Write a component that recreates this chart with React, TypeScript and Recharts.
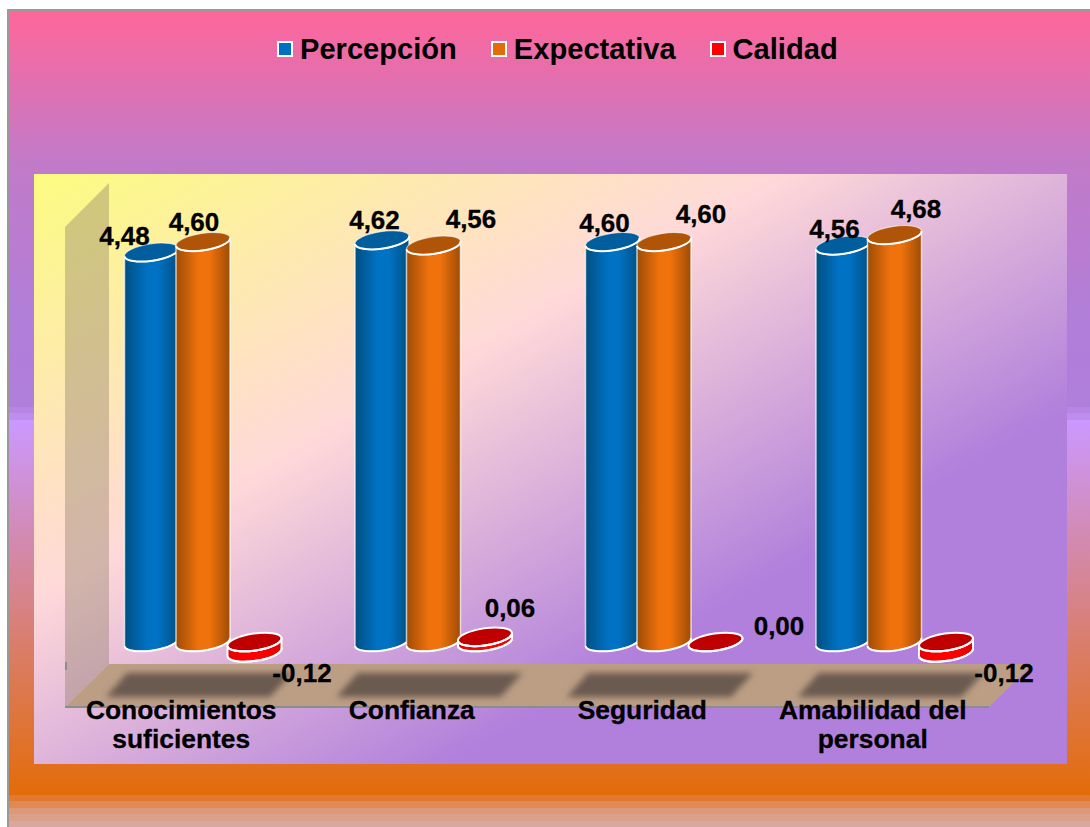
import React from "react";
import { BarChart, Bar, XAxis, YAxis, Legend, LabelList } from "recharts";

const categories = ["Conocimientos suficientes", "Confianza", "Seguridad", "Amabilidad del personal"];
const percepcion = [4.48, 4.62, 4.6, 4.56];
const expectativa = [4.6, 4.56, 4.6, 4.68];
const calidad = [-0.12, 0.06, 0, -0.12];

const data = categories.map((name, i) => ({
  name,
  Percepción: percepcion[i],
  Expectativa: expectativa[i],
  Calidad: calidad[i],
}));

// Label layout nudges, relative to each bar's centre and top
const NUDGE_P = [[-27, -17], [-7.5, -20], [-8, -19], [-8.5, -17]];
const NUDGE_E = [[-9, -20], [37.5, -27], [37, -28], [21.5, -26]];
const NUDGE_C = [[47.5, 31], [25, -29], [63.5, -16], [58, 31]];

const FONT = "'Liberation Sans', Arial, sans-serif";
const TILT = 8.5;
const RAD = (TILT * Math.PI) / 180;
const RY = 8.5;
const GROUP_STEP = 230.5;

function cylinder(grad: string, topFill: string, fullRim: boolean) {
  return (props: any) => {
    const { x, y, width, height } = props;
    const top = Math.min(y, y + height);
    const bot = Math.max(y, y + height);
    const cx = x + width / 2;
    const rx = width / 2 / Math.cos(RAD);
    const off = (width / 2) * Math.tan(RAD);
    const lx = x;
    const rxx = x + width;
    const side =
      `M ${lx} ${top + off} L ${lx} ${bot + off} ` +
      `A ${rx} ${RY} ${-TILT} 0 0 ${rxx} ${bot - off} ` +
      `L ${rxx} ${top - off} A ${rx} ${RY} ${-TILT} 0 1 ${lx} ${top + off} Z`;
    const front = `M ${lx} ${top + off} A ${rx} ${RY} ${-TILT} 0 0 ${rxx} ${top - off}`;
    const base = `M ${lx} ${bot + off} A ${rx} ${RY} ${-TILT} 0 0 ${rxx} ${bot - off}`;
    return (
      <g>
        {bot - top > 0.1 && (
          <>
            <path d={side} fill={`url(#${grad})`} stroke="#fff" strokeOpacity={fullRim ? 1 : 0.7} strokeWidth={fullRim ? 2 : 1.5} />
            <path d={base} fill="none" stroke="#fff" strokeWidth={2} />
          </>
        )}
        <ellipse
          cx={cx}
          cy={top}
          rx={rx}
          ry={RY}
          fill={topFill}
          stroke="#fff"
          strokeOpacity={fullRim ? 1 : 0.6}
          strokeWidth={fullRim ? 2 : 1.2}
          transform={`rotate(${-TILT} ${cx} ${top})`}
        />
        <path d={front} fill="none" stroke="#fff" strokeWidth={2} />
      </g>
    );
  };
}

function barLabel(nudges: number[][]) {
  return (props: any) => {
    const { x, y, width, height, value, index } = props;
    const top = Math.min(y, y + height);
    const [dx, dy] = nudges[index];
    return (
      <text
        x={x + width / 2 + dx}
        y={top + dy}
        dy="0.36em"
        textAnchor="middle"
        fontFamily={FONT}
        fontWeight="bold"
        fontSize={26}
        fill="#000"
        stroke="#000"
        strokeWidth={0.3}
      >
        {Number(value).toFixed(2).replace(".", ",")}
      </text>
    );
  };
}

function wrap(s: string, max: number) {
  const lines: string[] = [];
  let cur = "";
  for (const w of s.split(" ")) {
    if (cur && (cur + " " + w).length > max) {
      lines.push(cur);
      cur = w;
    } else cur = cur ? cur + " " + w : w;
  }
  if (cur) lines.push(cur);
  return lines;
}

const CategoryTick = (props: any) => {
  const { x, y, payload } = props;
  return (
    <text textAnchor="middle" fontFamily={FONT} fontWeight="bold" fontSize={26.4} fill="#000" stroke="#000" strokeWidth={0.3}>
      {wrap(payload.value, 14).map((l, i) => (
        <tspan key={i} x={x - 21.5} y={y + 27 + i * 29}>
          {l}
        </tspan>
      ))}
    </text>
  );
};

const LegendContent = (props: any) => (
  <div style={{ display: "flex", paddingLeft: 277, fontFamily: FONT, fontWeight: "bold", fontSize: 29.1, color: "#000", lineHeight: "32px", height: 32 }}>
    {(props.payload || []).map((p: any, i: number) => (
      <div key={i} style={{ display: "flex", alignItems: "center", marginRight: 34 }}>
        <span style={{ width: 12, height: 12, border: "2px solid #fff", background: p.color, marginRight: 7, display: "inline-block" }} />
        <span>{p.value}</span>
      </div>
    ))}
  </div>
);

function Grad({ id, edge, mid }: { id: string; edge: string; mid: string }) {
  return (
    <linearGradient id={id} x1="0" y1="0" x2="1" y2="0">
      <stop offset="0" stopColor={edge} />
      <stop offset="0.42" stopColor={mid} />
      <stop offset="0.62" stopColor={mid} />
      <stop offset="1" stopColor={edge} />
    </linearGradient>
  );
}

export default function App() {
  return (
    <div style={{ position: "absolute", left: 0, top: 0, width: 1090, height: 827, overflow: "hidden" }}>
      <BarChart
        width={1090}
        height={827}
        data={data}
        margin={{ top: 175, right: 80.5, bottom: 111.5, left: 87.5 }}
        barSize={54}
        barGap={-2.5}
      >
        <defs>
          <linearGradient id="bgOuter" x1="0" y1="0" x2="0" y2="1">
            <stop offset="0" stopColor="#FF6699" />
            <stop offset="0.18" stopColor="#C27AC8" />
            <stop offset="0.36" stopColor="#B27ED8" />
            <stop offset="0.478" stopColor="#AF7FDC" />
            <stop offset="0.478" stopColor="#B686E4" />
            <stop offset="0.4855" stopColor="#B686E4" />
            <stop offset="0.4855" stopColor="#BE8EEE" />
            <stop offset="0.494" stopColor="#BE8EEE" />
            <stop offset="0.494" stopColor="#CB98FF" />
            <stop offset="0.9458" stopColor="#E36C09" />
            <stop offset="0.9458" stopColor="#E17A30" />
            <stop offset="0.953" stopColor="#E17A30" />
            <stop offset="0.953" stopColor="#DF8A55" />
            <stop offset="0.961" stopColor="#DF8A55" />
            <stop offset="0.961" stopColor="#DC9878" />
            <stop offset="0.969" stopColor="#DC9878" />
            <stop offset="0.969" stopColor="#DAA088" />
            <stop offset="0.977" stopColor="#DAA088" />
            <stop offset="0.977" stopColor="#D8A8A0" />
            <stop offset="1" stopColor="#D8A8A0" />
          </linearGradient>
          <linearGradient id="bgPanel" x1="0" y1="0" x2="1" y2="1">
            <stop offset="0" stopColor="#FCFC80" />
            <stop offset="0.36" stopColor="#FFD9D9" />
            <stop offset="0.7" stopColor="#B080DC" />
            <stop offset="1" stopColor="#B080DC" />
          </linearGradient>
          <Grad id="gBlue" edge="#004F80" mid="#0072C4" />
          <Grad id="gOrange" edge="#9E4C06" mid="#F0720C" />
          <Grad id="gRed" edge="#E60000" mid="#FF0000" />
          <filter id="soft" x="-10%" y="-30%" width="120%" height="160%">
            <feGaussianBlur stdDeviation="3" />
          </filter>
        </defs>
        <rect x={8} y={10} width={1090} height={830} fill="url(#bgOuter)" stroke="#999" strokeWidth={2} />
        <rect x={34} y={174} width={1033} height={590} fill="url(#bgPanel)" />
        <polygon points="65,227 109,183 109,664 65,707" fill="#8A7A60" fillOpacity={0.38} />
        <polygon points="109,664 1033,664 989,707 65,707" fill="#BC9E84" />
        {categories.map((c, i) => {
          const s = i * GROUP_STEP;
          return (
            <polygon
              key={c}
              points={`${106 + s},697 ${127 + s},673 ${292 + s},673 ${270 + s},697`}
              fill="#6A5A50"
              filter="url(#soft)"
            />
          );
        })}
        <rect x={65} y={706} width={924} height={2} fill="#8C8C8C" />
        <rect x={65} y={662} width={2} height={8} fill="#8C8C8C" />
        <XAxis dataKey="name" axisLine={false} tickLine={false} tickMargin={0} height={30} interval={0} tick={CategoryTick} />
        <YAxis hide domain={[-0.5, 5]} />
        <Legend
          verticalAlign="top"
          align="left"
          itemSorter={null}
          content={LegendContent}
          wrapperStyle={{ position: "absolute", top: 33, left: 0, width: 1090 }}
        />
        <Bar dataKey="Percepción" fill="#0070C0" isAnimationActive={false} shape={cylinder("gBlue", "#005E9E", false)}>
          <LabelList dataKey="Percepción" content={barLabel(NUDGE_P)} />
        </Bar>
        <Bar dataKey="Expectativa" fill="#E36C09" isAnimationActive={false} shape={cylinder("gOrange", "#B05508", false)}>
          <LabelList dataKey="Expectativa" content={barLabel(NUDGE_E)} />
        </Bar>
        <Bar dataKey="Calidad" fill="#FF0000" isAnimationActive={false} shape={cylinder("gRed", "#C00000", true)}>
          <LabelList dataKey="Calidad" content={barLabel(NUDGE_C)} />
        </Bar>
      </BarChart>
    </div>
  );
}
